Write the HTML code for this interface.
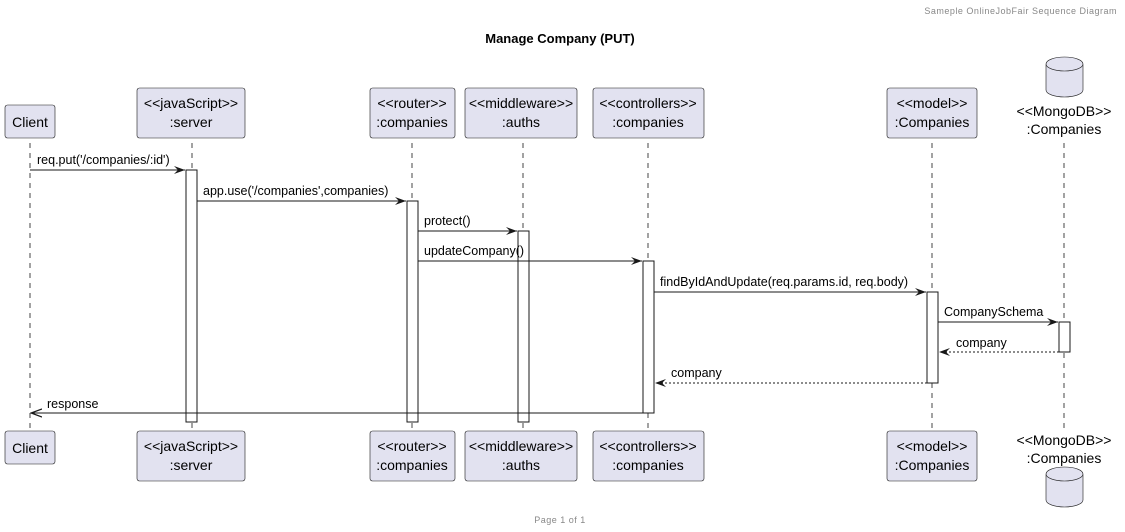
<!DOCTYPE html>
<html><head><meta charset="utf-8"><style>
html,body{margin:0;padding:0;background:#fff;}
svg{display:block;font-family:"Liberation Sans",sans-serif;}
</style></head><body>
<svg width="1125" height="532" viewBox="0 0 1125 532" xmlns="http://www.w3.org/2000/svg">
<defs><marker id="a" markerWidth="12" markerHeight="10" refX="11" refY="5" orient="auto" markerUnits="userSpaceOnUse"><path d="M0,1 L11,5 L0,9 L4,5 Z" fill="#181818"/></marker>
<marker id="o" markerWidth="12" markerHeight="10" refX="11" refY="5" orient="auto" markerUnits="userSpaceOnUse"><path d="M0,1 L11,5 L0,9" fill="none" stroke="#181818" stroke-width="1.2"/></marker></defs>
<text x="1117" y="14" text-anchor="end" font-size="9" fill="#888" letter-spacing="0.5">Sameple OnlineJobFair Sequence Diagram</text>
<text x="560" y="43" text-anchor="middle" font-size="13" font-weight="bold" fill="#000">Manage Company (PUT)</text>
<text x="560" y="523" text-anchor="middle" font-size="9" fill="#888" letter-spacing="0.5">Page 1 of 1</text>
<g stroke="#181818" stroke-width="0.8" stroke-dasharray="5,5">
<line x1="30" y1="143" x2="30" y2="431"/><line x1="192" y1="143" x2="192" y2="431"/><line x1="412" y1="143" x2="412" y2="431"/><line x1="523" y1="143" x2="523" y2="431"/><line x1="648" y1="143" x2="648" y2="431"/><line x1="932" y1="143" x2="932" y2="431"/><line x1="1064" y1="143" x2="1064" y2="431"/>
</g>
<g fill="#fff" stroke="#181818" stroke-width="1">
<rect x="186" y="170" width="11" height="252"/><rect x="407" y="201" width="11" height="221"/><rect x="518" y="231" width="11" height="191"/><rect x="643" y="261" width="11" height="152"/><rect x="927" y="292" width="11" height="91"/><rect x="1059" y="322" width="11" height="30"/>
</g>
<g fill="#e2e2f0" stroke="#181818" stroke-width="0.6">
<rect x="5" y="105" width="50" height="33" rx="2.5"/><rect x="137" y="88" width="108" height="50" rx="2.5"/><rect x="370" y="88" width="85" height="50" rx="2.5"/><rect x="465" y="88" width="112" height="50" rx="2.5"/><rect x="593" y="88" width="111" height="50" rx="2.5"/><rect x="887" y="88" width="90" height="50" rx="2.5"/>
<rect x="5" y="431" width="50" height="33" rx="2.5"/><rect x="137" y="431" width="108" height="50" rx="2.5"/><rect x="370" y="431" width="85" height="50" rx="2.5"/><rect x="465" y="431" width="112" height="50" rx="2.5"/><rect x="593" y="431" width="111" height="50" rx="2.5"/><rect x="887" y="431" width="90" height="50" rx="2.5"/>
<path d="M1046,64 v26 a18.5,7 0 0 0 37,0 v-26 a18.5,7 0 0 0 -37,0 a18.5,7 0 0 0 37,0"/>
<path d="M1046,474 v26 a18.5,7 0 0 0 37,0 v-26 a18.5,7 0 0 0 -37,0 a18.5,7 0 0 0 37,0"/>
</g>
<g font-size="14" fill="#000" text-anchor="middle">
<text x="30" y="127">Client</text><text x="191" y="108">&lt;&lt;javaScript&gt;&gt;</text><text x="191" y="127">:server</text>
<text x="412" y="108">&lt;&lt;router&gt;&gt;</text><text x="412" y="127">:companies</text>
<text x="521" y="108">&lt;&lt;middleware&gt;&gt;</text><text x="521" y="127">:auths</text>
<text x="648" y="108">&lt;&lt;controllers&gt;&gt;</text><text x="648" y="127">:companies</text>
<text x="932" y="108">&lt;&lt;model&gt;&gt;</text><text x="932" y="127">:Companies</text>
<text x="1064" y="116">&lt;&lt;MongoDB&gt;&gt;</text><text x="1064" y="134">:Companies</text>
<text x="30" y="453">Client</text><text x="191" y="451">&lt;&lt;javaScript&gt;&gt;</text><text x="191" y="470">:server</text>
<text x="412" y="451">&lt;&lt;router&gt;&gt;</text><text x="412" y="470">:companies</text>
<text x="521" y="451">&lt;&lt;middleware&gt;&gt;</text><text x="521" y="470">:auths</text>
<text x="648" y="451">&lt;&lt;controllers&gt;&gt;</text><text x="648" y="470">:companies</text>
<text x="932" y="451">&lt;&lt;model&gt;&gt;</text><text x="932" y="470">:Companies</text>
<text x="1064" y="445">&lt;&lt;MongoDB&gt;&gt;</text><text x="1064" y="463">:Companies</text>
</g>
<g stroke="#181818" stroke-width="1" fill="none">
<line x1="30" y1="170" x2="185" y2="170" marker-end="url(#a)"/>
<line x1="197" y1="201" x2="406" y2="201" marker-end="url(#a)"/>
<line x1="418" y1="231" x2="517" y2="231" marker-end="url(#a)"/>
<line x1="418" y1="261" x2="642" y2="261" marker-end="url(#a)"/>
<line x1="654" y1="292" x2="926" y2="292" marker-end="url(#a)"/>
<line x1="938" y1="322" x2="1058" y2="322" marker-end="url(#a)"/>
<line x1="1059" y1="352" x2="939" y2="352" stroke-dasharray="2,2" marker-end="url(#a)"/>
<line x1="927" y1="383" x2="655" y2="383" stroke-dasharray="2,2" marker-end="url(#a)"/>
<line x1="643" y1="413" x2="31" y2="413" marker-end="url(#o)"/>
</g>
<g font-size="12.5" fill="#000">
<text x="37" y="164">req.put('/companies/:id')</text>
<text x="203" y="195">app.use('/companies',companies)</text>
<text x="424" y="225">protect()</text>
<text x="424" y="255">updateCompany()</text>
<text x="660" y="286">findByIdAndUpdate(req.params.id, req.body)</text>
<text x="944" y="316">CompanySchema</text>
<text x="956" y="347">company</text>
<text x="671" y="377">company</text>
<text x="47" y="408">response</text>
</g>
</svg>
</body></html>
